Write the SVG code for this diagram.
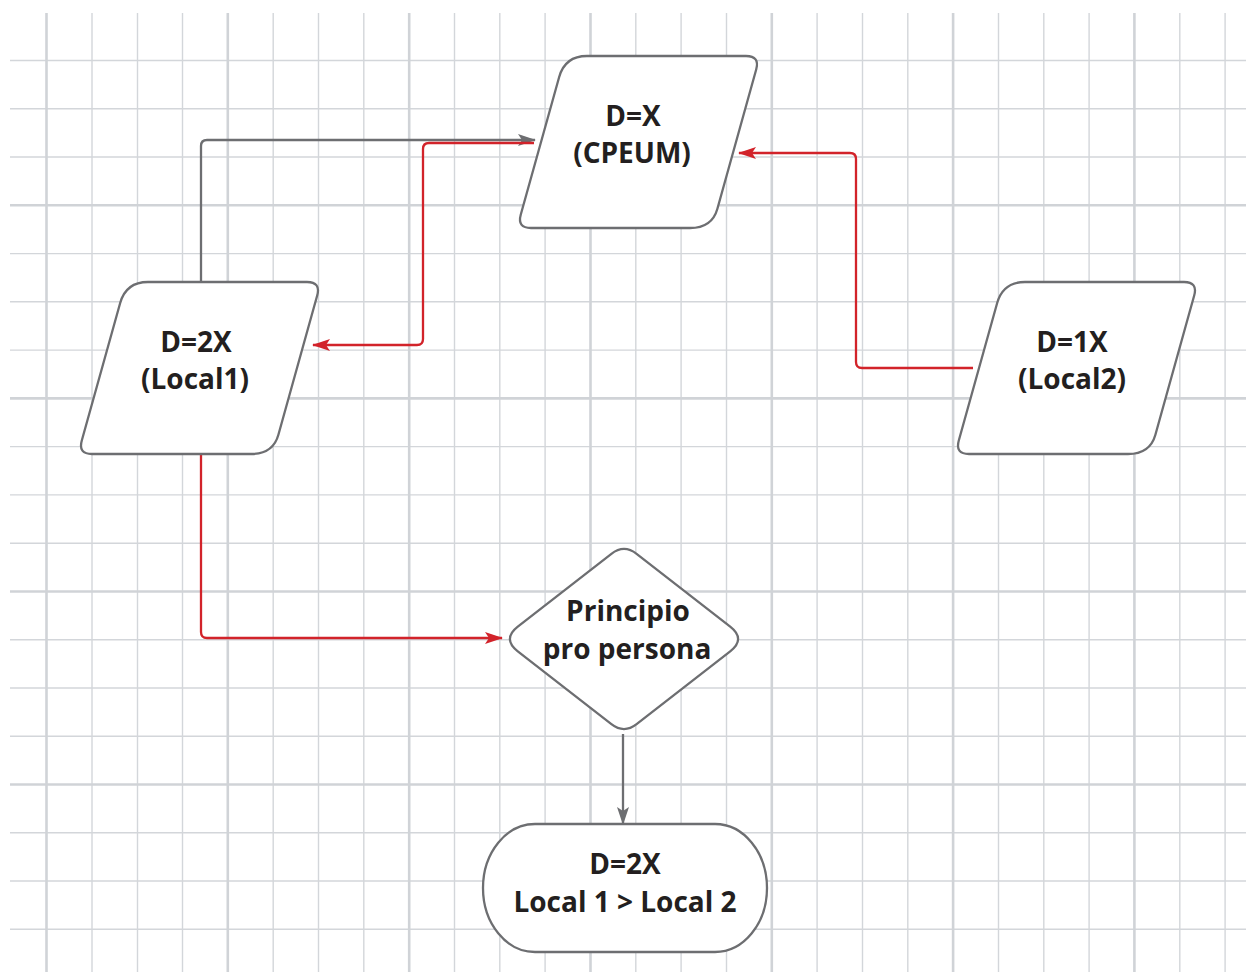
<svg xmlns="http://www.w3.org/2000/svg" width="1246" height="972" viewBox="0 0 1246 972">
<style>
.g{stroke:#d3d6da;stroke-width:1.4}
.gt{stroke:#d0d3d7;stroke-width:2.6}
.node{fill:#fff;stroke:#6d6e71;stroke-width:2.3}
.t{font-family:"Open Sans","Noto Sans",sans-serif;font-weight:700;font-size:28px;fill:#231f20;text-anchor:middle}
.cr{fill:none;stroke:#d2232a;stroke-width:2.3}
.cg{fill:none;stroke:#6d6e71;stroke-width:2.3}
</style>
<defs>
<marker id="ar" viewBox="0 0 18 12" refX="17" refY="6" markerWidth="18" markerHeight="12" markerUnits="userSpaceOnUse" orient="auto"><path d="M0,0 L18,6 L0,12 L4,6 Z" fill="#d2232a"/></marker>
<marker id="ag" viewBox="0 0 18 12" refX="17" refY="6" markerWidth="18" markerHeight="12" markerUnits="userSpaceOnUse" orient="auto"><path d="M0,0 L18,6 L0,12 L4,6 Z" fill="#6d6e71"/></marker>
<path id="para" d="M22,0 H181 Q195,0 191.2,13.5 L152.4,152.7 Q147,172 125,172 H-34 Q-48,172 -44.2,158.5 L-5.9,21.2 Q0,0 22,0 Z"/>
</defs>
<rect width="1246" height="972" fill="#fff"/>
<g id="grid">
<g class="g">
<line x1="92" y1="13" x2="92" y2="972"/><line x1="137.5" y1="13" x2="137.5" y2="972"/><line x1="182.5" y1="13" x2="182.5" y2="972"/>
<line x1="273.2" y1="13" x2="273.2" y2="972"/><line x1="318.5" y1="13" x2="318.5" y2="972"/><line x1="363.8" y1="13" x2="363.8" y2="972"/>
<line x1="454.5" y1="13" x2="454.5" y2="972"/><line x1="499.8" y1="13" x2="499.8" y2="972"/><line x1="545.1" y1="13" x2="545.1" y2="972"/>
<line x1="635.8" y1="13" x2="635.8" y2="972"/><line x1="681.1" y1="13" x2="681.1" y2="972"/><line x1="726.5" y1="13" x2="726.5" y2="972"/>
<line x1="817.1" y1="13" x2="817.1" y2="972"/><line x1="862.5" y1="13" x2="862.5" y2="972"/><line x1="907.8" y1="13" x2="907.8" y2="972"/>
<line x1="998.5" y1="13" x2="998.5" y2="972"/><line x1="1043.8" y1="13" x2="1043.8" y2="972"/><line x1="1089.1" y1="13" x2="1089.1" y2="972"/>
<line x1="1179.8" y1="13" x2="1179.8" y2="972"/><line x1="1225.1" y1="13" x2="1225.1" y2="972"/>
<line x1="10" y1="60.5" x2="1246" y2="60.5"/><line x1="10" y1="108.8" x2="1246" y2="108.8"/><line x1="10" y1="157" x2="1246" y2="157"/>
<line x1="10" y1="253.6" x2="1246" y2="253.6"/><line x1="10" y1="301.8" x2="1246" y2="301.8"/><line x1="10" y1="350.1" x2="1246" y2="350.1"/>
<line x1="10" y1="446.6" x2="1246" y2="446.6"/><line x1="10" y1="494.9" x2="1246" y2="494.9"/><line x1="10" y1="543.2" x2="1246" y2="543.2"/>
<line x1="10" y1="639.7" x2="1246" y2="639.7"/><line x1="10" y1="688" x2="1246" y2="688"/><line x1="10" y1="736.3" x2="1246" y2="736.3"/>
<line x1="10" y1="832.8" x2="1246" y2="832.8"/><line x1="10" y1="881" x2="1246" y2="881"/><line x1="10" y1="929.3" x2="1246" y2="929.3"/>
</g>
<g class="gt">
<line x1="46.5" y1="13" x2="46.5" y2="972"/><line x1="227.8" y1="13" x2="227.8" y2="972"/><line x1="409.2" y1="13" x2="409.2" y2="972"/>
<line x1="590.5" y1="13" x2="590.5" y2="972"/><line x1="771.8" y1="13" x2="771.8" y2="972"/><line x1="953.1" y1="13" x2="953.1" y2="972"/>
<line x1="1134.4" y1="13" x2="1134.4" y2="972"/>
<line x1="10" y1="205.3" x2="1246" y2="205.3"/><line x1="10" y1="398.4" x2="1246" y2="398.4"/><line x1="10" y1="591.5" x2="1246" y2="591.5"/>
<line x1="10" y1="784.5" x2="1246" y2="784.5"/>
</g>
</g>
<g id="connectors">
<path class="cg" d="M201,282 V146 Q201,140 207,140 H535" marker-end="url(#ag)"/>
<path class="cr" d="M534,143 H429 Q423,143 423,149 V339 Q423,345 417,345 H313" marker-end="url(#ar)"/>
<path class="cr" d="M973,368 H862 Q856,368 856,362 V159 Q856,153 850,153 H739" marker-end="url(#ar)"/>
<path class="cr" d="M201,454 V632 Q201,638 207,638 H502" marker-end="url(#ar)"/>
<path class="cg" d="M623,734 V824" marker-end="url(#ag)"/>
</g>
<g id="cpeum">
<use href="#para" class="node" transform="translate(565,56)"/>
<text class="t" x="633" y="126">D=X</text>
<text class="t" x="632" y="163">(CPEUM)</text>
</g>
<g id="local1">
<use href="#para" class="node" transform="translate(126,282)"/>
<text class="t" x="196" y="352">D=2X</text>
<text class="t" x="195" y="389">(Local1)</text>
</g>
<g id="local2">
<use href="#para" class="node" transform="translate(1003,282)"/>
<text class="t" x="1072" y="352">D=1X</text>
<text class="t" x="1072" y="389">(Local2)</text>
</g>
<g id="principio">
<path class="node" d="M611.4,553.8 Q624,544 636.6,553.8 L730.2,626.7 Q746,639 730.2,651.3 L636.6,724.2 Q624,734 611.4,724.2 L517.8,651.3 Q502,639 517.8,626.7 Z"/>
<text class="t" x="628" y="621">Principio</text>
<text class="t" x="627" y="659">pro persona</text>
</g>
<g id="resultado">
<rect class="node" x="483" y="824" width="284" height="128" rx="52" ry="64"/>
<text class="t" x="625" y="874">D=2X</text>
<text class="t" x="625" y="912">Local 1 &gt; Local 2</text>
</g>
</svg>
